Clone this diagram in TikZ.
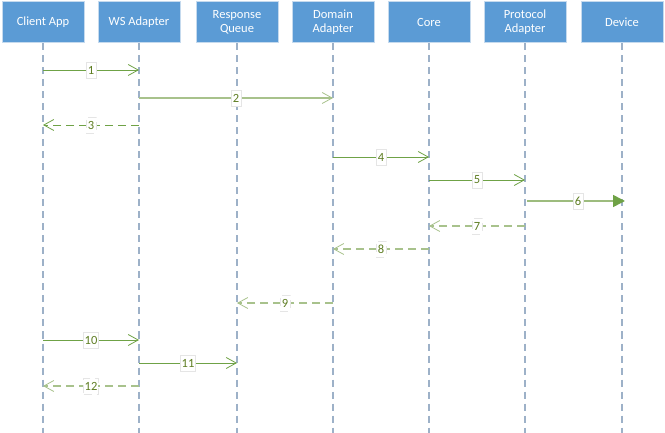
\documentclass[tikz,border=0pt]{standalone}
\usepackage{fontspec}
\setmainfont{Carlito}
\usetikzlibrary{arrows.meta,calc}
\definecolor{boxblue}{HTML}{5B9BD5}
\definecolor{boxedge}{HTML}{C5DAEE}
\definecolor{lifegray}{HTML}{9DB1C8}
\definecolor{msggreen}{HTML}{6FA246}
\definecolor{msglight}{HTML}{A8C28C}
\definecolor{numolive}{HTML}{5E7D22}
\tikzset{
  actor/.style={draw=boxedge,line width=1pt,fill=boxblue,text=white,minimum width=82pt,minimum height=41pt,align=center,font=\fontsize{12.5}{14}\selectfont,inner sep=1pt},
  lifeline/.style={draw=lifegray,line width=1.3pt,dash pattern=on 7pt off 5pt},
  msg/.style={draw=msggreen,line width=0.9pt,-{Straight Barb[length=10pt,width=11pt,line width=0.8pt]}},
  msgthick/.style={draw=msglight,line width=1.8pt,-{Straight Barb[length=10pt,width=11pt,line width=0.8pt]}},
  reply/.style={draw=msggreen,line width=0.9pt,dash pattern=on 8pt off 5pt,-{Straight Barb[length=10pt,width=11pt,line width=0.8pt]}},
  replylight/.style={draw=msglight,line width=1.6pt,dash pattern=on 8pt off 5pt,-{Straight Barb[length=10pt,width=11pt,line width=0.8pt]}},
  lbl/.style={fill=white,draw=black!10,line width=0.6pt,text=numolive,font=\fontsize{12.5}{14}\selectfont,inner sep=1pt,minimum height=16pt,minimum width=10pt}
}
\begin{document}
\begin{tikzpicture}[x=1pt,y=1pt,line cap=butt]
\useasboundingbox (0,0) rectangle (665,-433);
% lifeline heads
\node[actor] (ca) at (43,-22.5) {Client App};
\node[actor] (ws) at (139,-22.5) {WS Adapter};
\node[actor] (rq) at (237,-22.5) {Response\\Queue};
\node[actor] (da) at (333,-22.5) {Domain\\Adapter};
\node[actor] (co) at (429,-22.5) {Core};
\node[actor] (pa) at (525,-22.5) {Protocol\\Adapter};
\node[actor] (dv) at (622,-22.5) {Device};
% lifelines
\coordinate (bot) at (0,-433);
\foreach \n in {ca,ws,rq,da,co,pa,dv}
  \draw[lifeline] (\n.south) -- (\n |- bot);
% message rows
\coordinate (m1) at (0,-70);
\coordinate (m2) at (0,-98);
\coordinate (m3) at (0,-125);
\coordinate (m4) at (0,-157);
\coordinate (m5) at (0,-180);
\coordinate (m6) at (0,-201);
\coordinate (m7) at (0,-226);
\coordinate (m8) at (0,-249);
\coordinate (m9) at (0,-303);
\coordinate (m10) at (0,-340);
\coordinate (m11) at (0,-363);
\coordinate (m12) at (0,-386);
% messages
\draw[msg] (ca |- m1) -- node[lbl] {1} (ws |- m1);
\draw[msgthick] (ws |- m2) -- node[lbl] {2} (da |- m2);
\draw[reply] (ws |- m3) -- node[lbl] {3} (ca |- m3);
\draw[msg] (da |- m4) -- node[lbl] {4} (co |- m4);
\draw[msg] (co |- m5) -- node[lbl] {5} (pa |- m5);
\draw[draw=msglight!80!msggreen,line width=1.6pt,-{Triangle[length=12pt,width=12pt,fill=msggreen,color=msggreen]}] ($(pa |- m6)+(2,0)$) -- node[lbl,pos=0.52] {6} ($(dv |- m6)+(3,0)$);
\draw[replylight,line width=1.2pt] (pa |- m7) -- node[lbl] {7} (co |- m7);
\draw[replylight] (co |- m8) -- node[lbl] {8} (da |- m8);
\draw[replylight] (da |- m9) -- node[lbl,pos=0.5] {9} (rq |- m9);
\draw[msg] (ca |- m10) -- node[lbl] {10} (ws |- m10);
\draw[msg] (ws |- m11) -- node[lbl] {11} (rq |- m11);
\draw[replylight,line width=1.2pt] (ws |- m12) -- node[lbl] {12} (ca |- m12);
\end{tikzpicture}
\end{document}
